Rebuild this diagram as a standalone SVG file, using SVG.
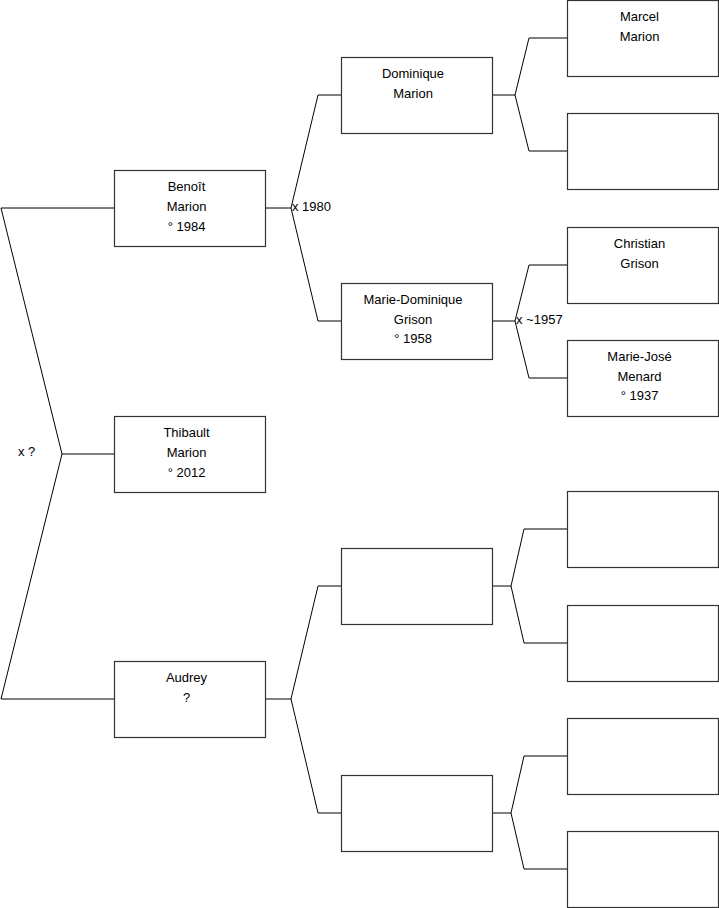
<svg xmlns="http://www.w3.org/2000/svg" width="719" height="908" viewBox="0 0 719 908">
<style>
.box{fill:#fff;stroke:#333;stroke-width:1.2}
.t{font-family:"Liberation Sans",Arial,sans-serif;font-size:13px;fill:#000;text-anchor:middle}
.l{font-family:"Liberation Sans",Arial,sans-serif;font-size:13px;fill:#000}
.c{fill:none;stroke:#000;stroke-width:1}
</style>
<rect width="719" height="908" fill="#fff"/>
<g id="connectors">
<polyline class="c" points="114,208 1,208 62,454 1,699 114,699"/>
<line class="c" x1="62" y1="454" x2="114" y2="454"/>
<polyline class="c" points="265,208 291,208"/>
<polyline class="c" points="341,95 318,95 291,208 318,321 341,321"/>
<polyline class="c" points="492,95 515,95"/>
<polyline class="c" points="567,38 529,38 515,95 529,151 567,151"/>
<polyline class="c" points="492,321 515,321"/>
<polyline class="c" points="567,265 529,265 515,321 529,378 567,378"/>
<polyline class="c" points="265,699 291,699"/>
<polyline class="c" points="341,586 318,586 291,699 318,813 341,813"/>
<polyline class="c" points="492,586 511,586"/>
<polyline class="c" points="567,529 524,529 511,586 524,643 567,643"/>
<polyline class="c" points="492,813 511,813"/>
<polyline class="c" points="567,756 524,756 511,813 524,869 567,869"/>
<text class="l" x="18" y="456">x ?</text>
<text class="l" x="292" y="211">x 1980</text>
<text class="l" x="516" y="324">x ~1957</text>
</g>
<g id="benoit"><rect class="box" x="114.5" y="170.5" width="151" height="76"/><text class="t" x="186.5" y="191">Benoît</text><text class="t" x="186.5" y="211">Marion</text><text class="t" x="186.5" y="230.5">° 1984</text></g>
<g id="thibault"><rect class="box" x="114.5" y="416.5" width="151" height="76"/><text class="t" x="186.5" y="437">Thibault</text><text class="t" x="186.5" y="457">Marion</text><text class="t" x="186.5" y="476.5">° 2012</text></g>
<g id="audrey"><rect class="box" x="114.5" y="661.5" width="151" height="76"/><text class="t" x="186.5" y="682">Audrey</text><text class="t" x="186.5" y="702">?</text></g>
<g id="dominique"><rect class="box" x="341.5" y="57.5" width="151" height="76"/><text class="t" x="413" y="77.5">Dominique</text><text class="t" x="413" y="97.5">Marion</text></g>
<g id="mariedominique"><rect class="box" x="341.5" y="283.5" width="151" height="76"/><text class="t" x="413" y="303.5">Marie-Dominique</text><text class="t" x="413" y="323.5">Grison</text><text class="t" x="413" y="343">° 1958</text></g>
<g id="empty2a"><rect class="box" x="341.5" y="548.5" width="151" height="76"/></g>
<g id="empty2b"><rect class="box" x="341.5" y="775.5" width="151" height="76"/></g>
<g id="marcel"><rect class="box" x="567.5" y="0.5" width="151" height="76"/><text class="t" x="639.5" y="20.5">Marcel</text><text class="t" x="639.5" y="40.5">Marion</text></g>
<g id="empty3a"><rect class="box" x="567.5" y="113.5" width="151" height="76"/></g>
<g id="christian"><rect class="box" x="567.5" y="227.5" width="151" height="76"/><text class="t" x="639.5" y="247.5">Christian</text><text class="t" x="639.5" y="267.5">Grison</text></g>
<g id="mariejose"><rect class="box" x="567.5" y="340.5" width="151" height="76"/><text class="t" x="639.5" y="360.5">Marie-José</text><text class="t" x="639.5" y="380.5">Menard</text><text class="t" x="639.5" y="400">° 1937</text></g>
<g id="empty3b"><rect class="box" x="567.5" y="491.5" width="151" height="76"/></g>
<g id="empty3c"><rect class="box" x="567.5" y="605.5" width="151" height="76"/></g>
<g id="empty3d"><rect class="box" x="567.5" y="718.5" width="151" height="76"/></g>
<g id="empty3e"><rect class="box" x="567.5" y="831.5" width="151" height="76"/></g>
</svg>
